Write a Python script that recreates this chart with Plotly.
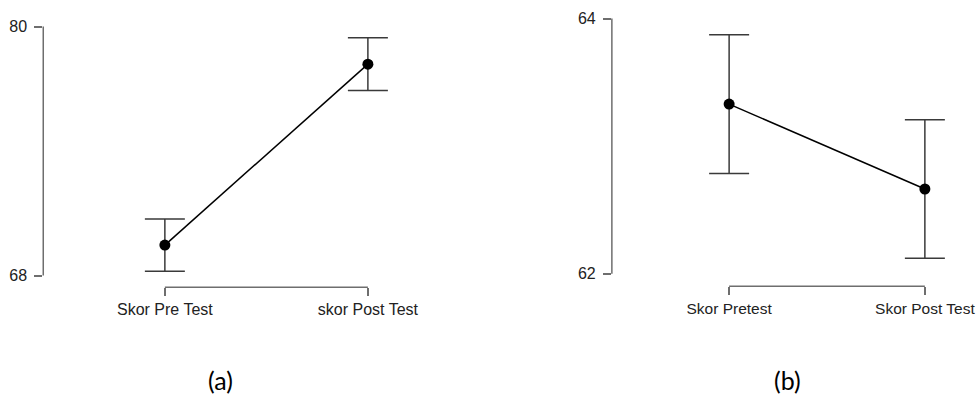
import plotly.graph_objects as go

# Panel (a)
cats_a = ["Skor Pre Test", "skor Post Test"]
means_a = [69.47, 78.19]
err_a = [1.26, 1.27]
yticks_a = [68, 80]

# Panel (b)
cats_b = ["Skor Pretest", "Skor Post Test"]
means_b = [63.33, 62.665]
err_b = [0.543, 0.543]
yticks_b = [62, 64]

captions = ["(a)", "(b)"]

FW, FH = 979, 395
fig = go.Figure()

AXC = "#6e6e6e"
FONT = "Liberation Sans"


def px(x):
    return x / FW


def py(y):
    return 1 - y / FH


panels = [
    dict(cats=cats_a, means=means_a, err=err_a, yt=yticks_a,
         xd=[px(43.3), px(440)], yd=[py(286.7), py(15)],
         xr=[-0.599, 1.353], yr=[67.439, 80.465], cx=221, ax="x", ay="y", xfs=16),
    dict(cats=cats_b, means=means_b, err=err_b, yt=yticks_b,
         xd=[px(612.5), px(975)], yd=[py(285.7), py(10)],
         xr=[-0.599, 1.251], yr=[61.903, 64.052], cx=788, ax="x2", ay="y2", xfs=15.5),
]

for i, p in enumerate(panels):
    xs = list(range(len(p["cats"])))
    fig.add_trace(go.Scatter(
        x=xs, y=p["means"], mode="lines+markers",
        line=dict(color="black", width=1.5),
        marker=dict(color="black", size=11),
        error_y=dict(type="data", array=p["err"], visible=True,
                     color="#3a3a3a", thickness=1.5, width=20),
        xaxis=p["ax"], yaxis=p["ay"], showlegend=False, hoverinfo="skip"))
    sfx = "" if i == 0 else "2"
    fig.update_layout(**{
        "xaxis" + sfx: dict(domain=p["xd"], range=p["xr"], anchor=p["ay"],
                           tickmode="array", tickvals=xs, ticktext=p["cats"],
                           showgrid=False, zeroline=False, showline=False,
                           ticks="outside", ticklen=8, tickwidth=1.5, tickcolor=AXC,
                           tickfont=dict(family=FONT, size=p["xfs"], color="#222"),
                           ticklabelstandoff=0, fixedrange=True),
        "yaxis" + sfx: dict(domain=p["yd"], range=p["yr"], anchor=p["ax"],
                           tickmode="array", tickvals=p["yt"],
                           ticktext=[str(v) for v in p["yt"]],
                           showgrid=False, zeroline=False, showline=False,
                           ticks="outside", ticklen=8, tickwidth=1.5, tickcolor=AXC,
                           tickfont=dict(family=FONT, size=16, color="#222"),
                           ticklabelstandoff=4, fixedrange=True),
    })
    # R-style range-limited axis lines
    fig.add_shape(type="line", xref=p["ax"] + " domain", yref=p["ay"],
                  x0=0, x1=0, y0=min(p["yt"]), y1=max(p["yt"]),
                  line=dict(color=AXC, width=1.5))
    fig.add_shape(type="line", xref=p["ax"], yref=p["ay"] + " domain",
                  x0=xs[0], x1=xs[-1], y0=0, y1=0,
                  line=dict(color=AXC, width=1.5))
    fig.add_annotation(text=captions[i], xref="paper", yref="paper",
                       x=px(p["cx"]), y=py(380), showarrow=False,
                       xanchor="center", yanchor="middle",
                       font=dict(family="Lato", size=25, color="black"))

fig.update_layout(width=FW, height=FH, margin=dict(l=0, r=0, t=0, b=0),
                  paper_bgcolor="white", plot_bgcolor="white")

fig.write_html("out.html", config={"displayModeBar": False},
               post_script="document.body.style.margin='0';"
                           "document.body.style.overflow='hidden';")
